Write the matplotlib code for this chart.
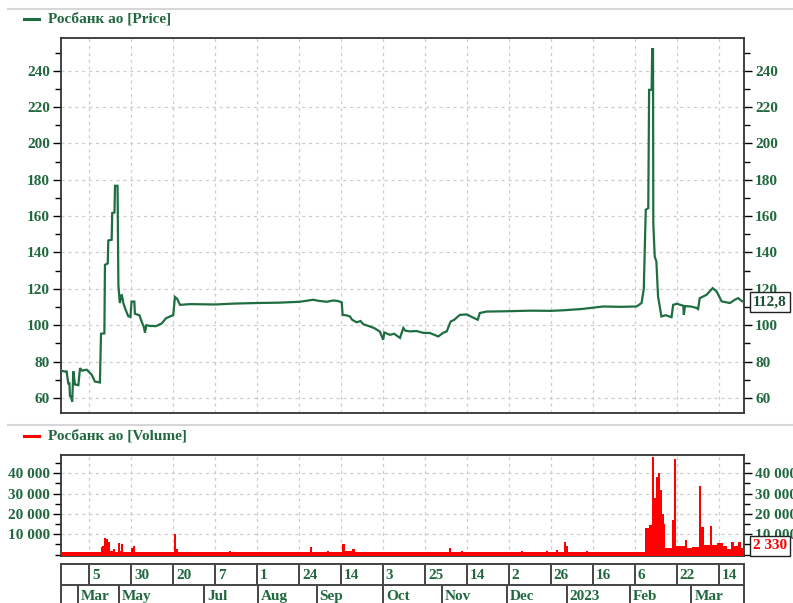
import matplotlib
matplotlib.use('Agg')
import matplotlib.pyplot as plt
import matplotlib.transforms as mtransforms
from matplotlib.lines import Line2D
from matplotlib.ticker import FixedLocator, MultipleLocator, FuncFormatter

# ---------------- data (x = trading-day index) ----------------
price_x = [0, 1.5, 2.0, 2.6, 3.0, 3.2, 3.6, 4.0, 4.4, 5.0, 6.2, 6.8, 7.5, 9.2, 11.0, 12.1, 13.9,
           14.3, 15.5, 15.7, 16.7, 16.9, 18.1, 18.3, 19.1, 19.3, 20.2, 20.5, 21.0, 21.7, 22.3,
           23.1, 24.0, 24.8, 25.2, 26.2, 26.4, 28.0, 29.0, 29.6, 30.0, 30.5, 31.8, 34.0, 36.0,
           37.5, 40.1, 40.7, 41.5, 42.5, 46.1, 55.0, 62.0, 69.9, 78.0, 85.4, 88.0, 90.1, 92.0,
           94.9, 97.3, 99.0, 100.3, 100.6, 102.0, 103.2, 104.0, 105.6, 107.0, 108.0, 110.4,
           112.0, 113.9, 115.1, 115.5, 117.5, 119.0, 121.1, 122.3, 123.0, 124.6, 127.0, 129.4,
           131.8, 134.8, 136.5, 137.8, 139.2, 140.5, 142.5, 145.0, 146.8, 148.9, 149.6, 152.0,
           160.0, 167.5, 175.0, 179.4, 186.0, 193.7, 200.0, 205.6, 207.4, 208.2, 208.9, 209.8,
           210.1, 211.0, 211.2, 211.5, 211.6, 212.1, 212.7, 213.3, 214.5, 216.0, 218.1, 218.7,
           220.0, 222.3, 222.5, 222.9, 225.0, 227.0, 227.6, 228.2, 230.6, 232.8, 234.2, 236.0,
           239.0, 240.7, 241.9, 243.1, 243.9]
price_y = [75.0, 74.5, 74.6, 68.0, 68.0, 61.0, 60.8, 58.0, 74.6, 67.4, 67.0, 76.4, 75.0, 75.5, 72.7,
           69.0, 68.5, 95.3, 95.5, 133.2, 134.0, 146.6, 147.0, 161.7, 162.0, 176.7, 176.7, 122.2,
           112.2, 117.0, 112.0, 108.5, 105.0, 104.5, 113.0, 113.0, 106.3, 105.5, 101.2, 99.0, 96.0,
           100.0, 99.6, 99.5, 101.0, 103.8, 105.6, 115.5, 114.5, 111.2, 111.6, 111.4, 111.9, 112.2,
           112.4, 112.9, 113.5, 114.0, 113.4, 112.9, 113.6, 113.3, 112.5, 105.7, 105.4, 104.8,
           103.0, 101.6, 102.3, 100.5, 99.3, 98.3, 96.5, 92.0, 96.0, 94.7, 95.3, 93.0, 98.5, 97.0,
           96.6, 96.8, 95.8, 95.7, 93.8, 95.8, 96.6, 102.0, 103.0, 105.7, 105.9, 104.5, 103.0,
           106.7, 107.5, 107.7, 108.0, 107.9, 108.2, 108.9, 110.3, 110.1, 110.3, 112.2, 120.0,
           163.5, 164.4, 229.5, 229.5, 251.9, 251.9, 156.1, 137.8, 135.0, 115.8, 104.8, 105.5,
           104.4, 111.2, 111.8, 110.7, 105.7, 110.5, 110.3, 109.5, 108.9, 114.9, 116.7, 120.4,
           118.6, 113.1, 112.2, 114.0, 114.9, 113.4, 112.8]

vol_x = [0, 14.2, 14.6, 15.4, 16.1, 16.8, 17.5, 18.6, 19.3, 20.2, 21.2, 21.6, 22.3, 25.0, 25.7,
         26.4, 40.4, 41.1, 41.8, 60.0, 60.7, 88.9, 89.8, 95.0, 95.7, 100.5, 101.4, 103.9, 105.0,
         138.6, 139.3, 142.9, 143.6, 164.3, 165.0, 173.2, 174.0, 176.8, 177.5, 179.6, 180.4,
         181.1, 187.5, 188.2, 208.6, 210.0, 211.3, 212.0, 212.5, 213.2, 214.1, 214.8, 215.4,
         215.9, 218.2, 219.1, 219.8, 222.9, 223.6, 225.4, 228.0, 228.8, 229.6, 231.8, 232.7,
         234.3, 236.4, 237.9, 239.3, 240.4, 241.8, 242.9, 243.6, 244.0]
vol_y = [1200, 3900, 4200, 8000, 7500, 6000, 1800, 2500, 1500, 5500, 2000, 5200, 1500, 3000, 4000,
         1300, 10000, 2500, 1200, 1800, 1200, 3500, 1200, 2000, 1200, 5000, 2000, 2500, 1200,
         3400, 1200, 2000, 1200, 2000, 1200, 2000, 1300, 2300, 1300, 6000, 4000,
         1500, 2000, 1200, 13000, 14600, 47800, 28000, 38000, 40300, 32000, 20000, 15000,
         3000, 17000, 47000, 4000, 7000, 3000, 3700, 33500, 13500, 4500, 14000, 4500,
         5500, 4000, 2500, 6000, 4000, 6000, 3000, 2330, 2330]

day_ticks = [10, 25, 40, 55, 70, 85, 100, 115, 130, 145, 160, 175, 190, 205, 220, 235]
day_labels = ['5', '30', '20', '7', '1', '24', '14', '3', '25', '14', '2', '26', '16', '6', '22', '14']
month_starts = [6.1, 20.7, 51.1, 70.4, 91.3, 115.0, 136.0, 159.3, 180.7, 203.2, 225.2]
month_labels = ['Mar', 'May', 'Jul', 'Aug', 'Sep', 'Oct', 'Nov', 'Dec', '2023', 'Feb', 'Mar']
price_ticks = [60, 80, 100, 120, 140, 160, 180, 200, 220, 240]
vol_ticks = [10000, 20000, 30000, 40000]
last_price = 112.8
last_volume = 2330

# ---------------- style ----------------
W, H = 793, 603
GREEN_TXT = '#22683f'
GREEN_LINE = '#1f6e42'
GRID = '#cdcdcd'
FS = 11
plt.rcParams['font.family'] = ['Liberation Serif', 'DejaVu Serif']
plt.rcParams['font.weight'] = 'bold'

fig = plt.figure(figsize=(W / 100, H / 100), dpi=100)


def rect(l, t, r, b):
    return [l / W, 1 - b / H, (r - l) / W, (b - t) / H]


ax1 = fig.add_axes(rect(61, 38, 744, 413))
ax2 = fig.add_axes(rect(61, 455, 744, 556), sharex=ax1)
ax3 = fig.add_axes(rect(61, 564, 744, 606), sharex=ax1)

xmax = 244
ax1.set_xlim(0, xmax)

# price
ax1.plot(price_x, price_y, color=GREEN_LINE, lw=1.6, solid_joinstyle='miter', zorder=3)
ax1.set_ylim(51.7, 258)
ax1.yaxis.set_major_locator(FixedLocator(price_ticks))
ax1.yaxis.set_minor_locator(MultipleLocator(10))

# volume
vol_floor = -700
ax2.fill_between(vol_x, vol_y, vol_floor, step='post', color='#ff0000', lw=0, zorder=3)
ax2.set_ylim(vol_floor, 49000)
ax2.yaxis.set_major_locator(FixedLocator(vol_ticks))
ax2.yaxis.set_minor_locator(MultipleLocator(5000))
ax2.yaxis.set_major_formatter(FuncFormatter(lambda v, p: f"{int(v):,}".replace(',', ' ')))

ax1.xaxis.set_major_locator(FixedLocator(day_ticks))

for ax in (ax1, ax2):
    ax.grid(True, which='major', linestyle=(0, (2.5, 3)), color=GRID, lw=0.9)
    ax.tick_params(axis='x', which='both', length=0, labelbottom=False)
    ax.tick_params(axis='y', which='major', length=6, width=1, direction='out', left=True, right=True,
                   labelleft=True, labelright=True, labelsize=FS, labelcolor=GREEN_TXT, pad=2)
    ax.tick_params(axis='y', which='minor', length=4, width=1, direction='out', left=True, right=True)
    for s in ax.spines.values():
        s.set_color('#333333')
        s.set_linewidth(1.3)
    for lab in ax.get_yticklabels():
        lab.set_fontweight('bold')

# last-value boxes
tr1 = mtransforms.blended_transform_factory(ax1.transAxes, ax1.transData)
ax1.text(1 + 9 / 683, last_price, f"{last_price:.1f}".replace('.', ','), transform=tr1,
         va='center', ha='left', fontsize=FS, color='#1f4f35', clip_on=False, zorder=10,
         bbox=dict(boxstyle='square,pad=0.22', fc='white', ec='#222222', lw=1))
tr2 = mtransforms.blended_transform_factory(ax2.transAxes, ax2.transData)
ax2.text(1 + 9 / 683, last_volume + 1900, f"{last_volume:,}".replace(',', ' '), transform=tr2,
         va='center', ha='left', fontsize=FS, color='#ff0000', clip_on=False, zorder=10,
         bbox=dict(boxstyle='square,pad=0.22', fc='white', ec='#222222', lw=1))

# date strip
ax3.set_ylim(0, 2)
ax3.tick_params(axis='both', which='both', length=0, labelbottom=False, labelleft=False)
for s in ax3.spines.values():
    s.set_color('#444444')
    s.set_linewidth(1.4)
ax3.axhline(1, color='#444444', lw=1.4)
ax3.vlines(day_ticks, 1, 2, color='#444444', lw=1.4)
ax3.vlines(month_starts, 0, 1, color='#444444', lw=1.4)
off = mtransforms.offset_copy(ax3.transData, fig=fig, x=3, y=0, units='dots')
for t, lab in zip(day_ticks, day_labels):
    ax3.text(t, 1.47, lab, transform=off, ha='left', va='center', fontsize=FS, color=GREEN_TXT)
for t, lab in zip(month_starts, month_labels):
    ax3.text(t, 0.45, lab, transform=off, ha='left', va='center', fontsize=FS, color=GREEN_TXT)

# legends and separators
def figline(x0, x1, y, color, lw):
    fig.add_artist(Line2D([x0 / W, x1 / W], [1 - y / H, 1 - y / H], color=color, lw=lw,
                          transform=fig.transFigure))


figline(8, 793, 9, '#d6d6d6', 1.5)
figline(8, 793, 425, '#d6d6d6', 1.5)
figline(24, 39, 19, GREEN_LINE, 2.2)
figline(24, 39, 436, '#ff0000', 2.2)
fig.text(48 / W, 1 - 19 / H, 'Росбанк ао [Price]', ha='left', va='center', fontsize=FS,
         color=GREEN_TXT)
fig.text(48 / W, 1 - 436 / H, 'Росбанк ао [Volume]', ha='left', va='center', fontsize=FS,
         color=GREEN_TXT)

fig.savefig('out.png', dpi=100)
